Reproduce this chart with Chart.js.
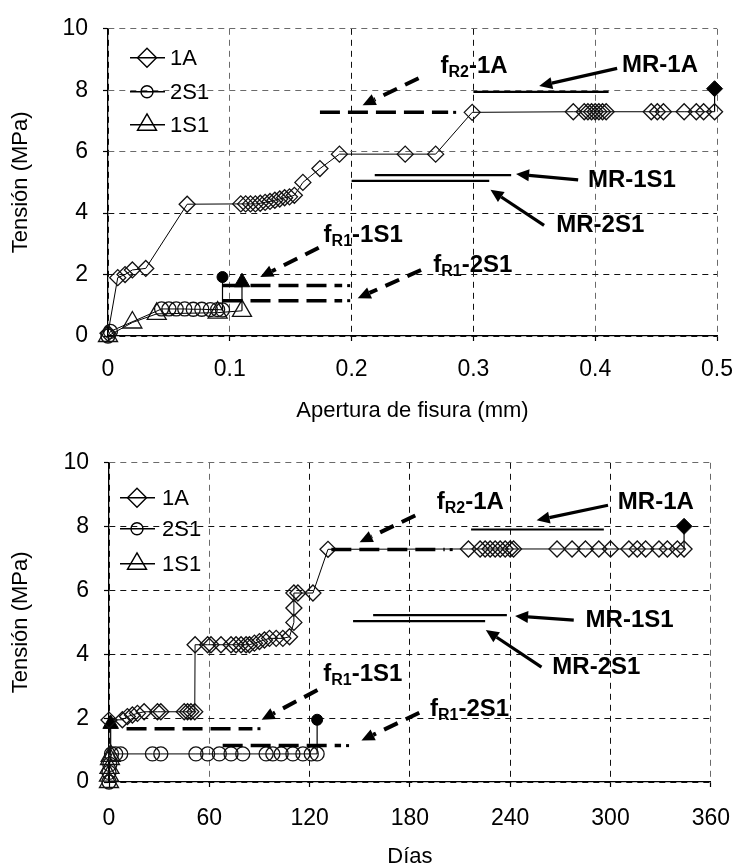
<!DOCTYPE html>
<html lang="es">
<head>
<meta charset="utf-8">
<title>Tensión frente a apertura de fisura y días</title>
<script src="https://cdn.jsdelivr.net/npm/chart.js@4.4.1/dist/chart.umd.min.js"></script>
<style>
  html, body { margin: 0; padding: 0; background: #fff; }
  .panel { position: absolute; left: 0; width: 748px; height: 434px; }
  #panel-apertura { top: 0; }
  #panel-dias { top: 434px; }
</style>
</head>
<body>
<div class="panel" id="panel-apertura"><canvas id="chart-apertura" width="748" height="434"></canvas></div>
<div class="panel" id="panel-dias"><canvas id="chart-dias" width="748" height="434"></canvas></div>
<script>
const FONT = '"Liberation Sans", Arial, sans-serif';

// --- Panel superior: tensión (MPa) frente a apertura de fisura (mm) ---
const aperturaA = [0, 0.008, 0.014, 0.020, 0.031, 0.065, 0.109, 0.113, 0.117, 0.121, 0.125, 0.129, 0.133, 0.137, 0.141, 0.145, 0.149, 0.153,
  0.160, 0.174, 0.190, 0.244, 0.269, 0.299, 0.382, 0.391, 0.394, 0.397, 0.400, 0.403, 0.406, 0.409, 0.446, 0.451, 0.456, 0.473, 0.483, 0.489, 0.498];
const tensionAperturaA = [0.09, 1.9, 2.0, 2.15, 2.2, 4.29, 4.3, 4.3, 4.3, 4.3, 4.32, 4.35, 4.38, 4.42, 4.46, 4.5, 4.53, 4.58,
  5.0, 5.45, 5.92, 5.92, 5.92, 7.28, 7.3, 7.3, 7.3, 7.3, 7.3, 7.3, 7.3, 7.3, 7.3, 7.3, 7.3, 7.3, 7.3, 7.3, 7.3];
const apertura2S1 = [0, 0.002, 0.044, 0.050, 0.056, 0.063, 0.070, 0.077, 0.084, 0.090, 0.094];
const tensionApertura2S1 = [0, 0.15, 0.88, 0.88, 0.88, 0.88, 0.87, 0.87, 0.86, 0.86, 0.85];
const apertura1S1 = [0, 0.020, 0.040, 0.090, 0.110];
const tensionApertura1S1 = [0, 0.44, 0.72, 0.76, 0.82];
// rotura (MR): último punto del ensayo y valor de rotura
const roturaAperturaA = [0.498, 0.498];
const roturaTensionAperturaA = [7.3, 8.05];
const roturaApertura2S1 = [0.094, 0.094];
const roturaTensionApertura2S1 = [0.85, 1.92];
const roturaApertura1S1 = [0.110, 0.110];
const roturaTensionApertura1S1 = [0.82, 1.75];

// --- Panel inferior: tensión (MPa) frente a días ---
const diasA = [0, 8, 11, 14, 17, 21, 29, 31, 45, 47, 49, 51.3, 51.5, 59, 61, 67, 73, 76, 79, 82, 84, 87, 90, 93, 96, 100, 104, 108, 110.6, 110.6, 110.6, 113, 122, 131,
  215, 222, 225, 228, 231, 234, 237, 240, 242, 268, 277, 285, 293, 300, 311, 316, 321, 329, 334, 340, 344];
const tensionDiasA = [1.94, 1.95, 2.05, 2.1, 2.15, 2.2, 2.2, 2.2, 2.2, 2.2, 2.2, 2.2, 4.3, 4.3, 4.3, 4.3, 4.3, 4.3, 4.3, 4.3, 4.3, 4.35, 4.4, 4.45, 4.5, 4.5, 4.5, 4.55, 5.0, 5.45, 5.92, 5.92, 5.92, 7.29,
  7.3, 7.3, 7.3, 7.3, 7.3, 7.3, 7.3, 7.3, 7.3, 7.3, 7.3, 7.3, 7.3, 7.3, 7.3, 7.3, 7.3, 7.3, 7.3, 7.3, 7.3];
const dias2S1 = [0, 0, 0.5, 1.5, 4, 7, 26, 31, 52, 59, 66, 73, 80, 94, 98, 103, 110, 116, 121, 124.5];
const tensionDias2S1 = [0, 0.3, 0.55, 0.88, 0.88, 0.88, 0.88, 0.88, 0.88, 0.88, 0.88, 0.88, 0.88, 0.88, 0.88, 0.88, 0.88, 0.88, 0.88, 0.88];
const dias1S1 = [0, 0, 0.3, 0.6, 1.0];
const tensionDias1S1 = [0, 0.2, 0.44, 0.72, 0.82];
const roturaDiasA = [344, 344];
const roturaTensionDiasA = [7.3, 8.01];
const roturaDias2S1 = [124.5, 124.5];
const roturaTensionDias2S1 = [0.88, 1.95];
const roturaDias1S1 = [1.0, 1.0];
const roturaTensionDias1S1 = [0.82, 1.82];

// ejes
const ticksApertura = [0, 0.1, 0.2, 0.3, 0.4, 0.5];
const ticksDias = [0, 60, 120, 180, 240, 300, 360];
const ticksTension = [0, 2, 4, 6, 8, 10];

// niveles fR (discontinuo) y MR (continuo), flechas y rótulos
const notasApertura = {
  niveles: [
    { x: [0.174, 0.285], y: 7.28, fR: true },
    { x: [0.094, 0.198], y: 1.64, fR: true },
    { x: [0.094, 0.198], y: 1.15, fR: true },
    { x: [0.300, 0.411], y: 7.95 },
    { x: [0.219, 0.331], y: 5.24 },
    { x: [0.200, 0.313], y: 5.05 }
  ],
  flechas: [
    { de: [0.255, 8.39], a: [0.209, 7.51], fR: true },
    { de: [0.418, 8.71], a: [0.354, 8.14] },
    { de: [0.386, 5.08], a: [0.335, 5.27] },
    { de: [0.358, 3.60], a: [0.314, 4.76] },
    { de: [0.173, 2.87], a: [0.125, 1.92], fR: true },
    { de: [0.257, 2.15], a: [0.205, 1.23], fR: true }
  ],
  textos: [
    { en: [0.273, 8.77], partes: ['f', 'R2', '-1A'] },
    { en: [0.422, 8.80], partes: ['MR-1A'] },
    { en: [0.394, 5.08], partes: ['MR-1S1'] },
    { en: [0.368, 3.60], partes: ['MR-2S1'] },
    { en: [0.177, 3.28], partes: ['f', 'R1', '-1S1'] },
    { en: [0.267, 2.30], partes: ['f', 'R1', '-2S1'] }
  ]
};

const notasDias = {
  niveles: [
    { x: [133, 205], y: 7.28, fR: true },
    { x: [10.5, 90], y: 1.67, fR: true },
    { x: [68, 143], y: 1.14, fR: true },
    { x: [216.6, 296], y: 7.91 },
    { x: [158, 238], y: 5.23 },
    { x: [146, 225], y: 5.04 }
  ],
  flechas: [
    { de: [183.2, 8.35], a: [149.9, 7.51], fR: true },
    { de: [298.5, 8.67], a: [255.8, 8.20] },
    { de: [278.0, 5.07], a: [242.9, 5.20] },
    { de: [258.7, 3.60], a: [225.4, 4.76] },
    { de: [124.7, 2.88], a: [91.3, 1.95], fR: true },
    { de: [185.6, 2.17], a: [151.0, 1.30], fR: true }
  ],
  textos: [
    { en: [196.1, 8.76], partes: ['f', 'R2', '-1A'] },
    { en: [304.4, 8.76], partes: ['MR-1A'] },
    { en: [285.1, 5.07], partes: ['MR-1S1'] },
    { en: [265.2, 3.60], partes: ['MR-2S1'] },
    { en: [128.2, 3.36], partes: ['f', 'R1', '-1S1'] },
    { en: [192.0, 2.26], partes: ['f', 'R1', '-2S1'] }
  ]
};

const series = [
  { label: '1A', estilo: 'rectRot', r: 8, leyendaR: 9.5 },
  { label: '2S1', estilo: 'circle', r: 7, leyendaR: 6 },
  { label: '1S1', estilo: 'triangle', r: 11, leyendaR: 11 }
];

function puntos(xs, ys) {
  return xs.map((x, i) => ({ x: x, y: ys[i] }));
}

function serie(s, xs, ys) {
  return {
    label: s.label,
    data: puntos(xs, ys),
    showLine: true,
    borderColor: '#000',
    borderWidth: 1,
    backgroundColor: 'rgba(0,0,0,0)',
    pointStyle: s.estilo,
    pointRadius: s.r,
    pointBorderColor: '#111',
    pointBackgroundColor: 'rgba(0,0,0,0)',
    pointBorderWidth: 1.3,
    clip: false
  };
}

// tramo vertical hasta la rotura, con marcador relleno arriba
function rotura(s, xs, ys) {
  return {
    label: s.label + ' MR',
    data: puntos(xs, ys),
    showLine: true,
    borderColor: '#000',
    borderWidth: 1.2,
    pointStyle: s.estilo,
    pointRadius: [0, s.estilo === 'circle' ? 5.5 : s.estilo === 'triangle' ? 9 : 8],
    pointBorderColor: '#000',
    pointBackgroundColor: '#000',
    pointBorderWidth: 1,
    clip: false
  };
}

function marcador(ctx, estilo, x, y, r, relleno) {
  ctx.beginPath();
  if (estilo === 'rectRot') {
    ctx.moveTo(x - r, y); ctx.lineTo(x, y - r); ctx.lineTo(x + r, y); ctx.lineTo(x, y + r);
    ctx.closePath();
  } else if (estilo === 'circle') {
    ctx.arc(x, y, r, 0, Math.PI * 2);
  } else {
    const h = r * Math.sin(Math.PI / 3);
    ctx.moveTo(x, y - r); ctx.lineTo(x + h, y + r / 2); ctx.lineTo(x - h, y + r / 2);
    ctx.closePath();
  }
  if (relleno) { ctx.fillStyle = '#000'; ctx.fill(); }
  ctx.stroke();
}

function flecha(ctx, x1, y1, x2, y2, discontinua) {
  const ang = Math.atan2(y2 - y1, x2 - x1);
  const largo = 13, ancho = 6;
  const bx = x2 - Math.cos(ang) * largo, by = y2 - Math.sin(ang) * largo;
  ctx.save();
  ctx.strokeStyle = '#000';
  ctx.lineWidth = discontinua ? 4 : 3.2;
  ctx.setLineDash(discontinua ? [15, 9] : []);
  ctx.beginPath(); ctx.moveTo(x1, y1); ctx.lineTo(bx, by); ctx.stroke();
  ctx.setLineDash([]);
  ctx.fillStyle = '#000';
  ctx.beginPath();
  ctx.moveTo(x2, y2);
  ctx.lineTo(bx + Math.sin(ang) * ancho, by - Math.cos(ang) * ancho);
  ctx.lineTo(bx - Math.sin(ang) * ancho, by + Math.cos(ang) * ancho);
  ctx.closePath(); ctx.fill();
  ctx.restore();
}

function anotaciones(notas, leyenda) {
  return {
    id: 'anotaciones',
    afterDatasetsDraw(chart) {
      const { ctx, scales: { x, y } } = chart;
      ctx.save();
      notas.niveles.forEach(n => {
        const x1 = x.getPixelForValue(n.x[0]), x2 = x.getPixelForValue(n.x[1]);
        const py = y.getPixelForValue(n.y);
        ctx.strokeStyle = '#000';
        if (n.fR) {
          ctx.lineWidth = 3.5;
          ctx.setLineDash([20, 8]);
          ctx.beginPath(); ctx.moveTo(x1, py); ctx.lineTo(x2 - 7, py); ctx.stroke();
          ctx.setLineDash([]);
          ctx.fillStyle = '#000';
          ctx.fillRect(x2 - 2, py - 1.5, 3, 3);
        } else {
          ctx.lineWidth = 2.2;
          ctx.setLineDash([]);
          ctx.beginPath(); ctx.moveTo(x1, py); ctx.lineTo(x2, py); ctx.stroke();
        }
      });
      notas.flechas.forEach(f => {
        flecha(ctx, x.getPixelForValue(f.de[0]), y.getPixelForValue(f.de[1]),
          x.getPixelForValue(f.a[0]), y.getPixelForValue(f.a[1]), f.fR);
      });
      ctx.fillStyle = '#000';
      ctx.textBaseline = 'middle';
      ctx.textAlign = 'left';
      notas.textos.forEach(t => {
        let px = x.getPixelForValue(t.en[0]);
        const py = y.getPixelForValue(t.en[1]);
        t.partes.forEach((p, i) => {
          const sub = t.partes.length === 3 && i === 1;
          ctx.font = 'bold ' + (sub ? 16 : 24) + 'px ' + FONT;
          ctx.fillText(p, px, sub ? py + 6 : py);
          px += ctx.measureText(p).width;
        });
      });
      ctx.restore();
    },
    afterDraw(chart) {
      const { ctx, chartArea } = chart;
      ctx.save();
      ctx.strokeStyle = '#000';
      series.forEach((s, i) => {
        const ry = chartArea.top + leyenda.filas[i];
        const x0 = chartArea.left + leyenda.linea[0], x1 = chartArea.left + leyenda.linea[1];
        ctx.lineWidth = 1.6;
        ctx.beginPath(); ctx.moveTo(x0, ry); ctx.lineTo(x1, ry); ctx.stroke();
        ctx.lineWidth = 1.4;
        marcador(ctx, s.estilo, chartArea.left + leyenda.marca, ry, s.leyendaR, false);
        ctx.fillStyle = '#000';
        ctx.font = '22px ' + FONT;
        ctx.textBaseline = 'middle';
        ctx.textAlign = 'left';
        ctx.fillText(s.label, chartArea.left + leyenda.texto, ry + 1);
      });
      ctx.restore();
    }
  };
}

function crearGrafico(id, cfg) {
  const punteada = cfg.punteada;
  return new Chart(document.getElementById(id), {
    type: 'scatter',
    data: { datasets: cfg.datasets },
    options: {
      responsive: false,
      animation: false,
      events: [],
      layout: { padding: cfg.padding },
      plugins: { legend: { display: false }, tooltip: { enabled: false } },
      scales: {
        x: {
          type: 'linear',
          min: cfg.ticksX[0],
          max: cfg.ticksX[cfg.ticksX.length - 1],
          afterBuildTicks: s => { s.ticks = cfg.ticksX.map(v => ({ value: v })); },
          afterFit: s => { s.height = cfg.altoX; },
          grid: {
            color: c => punteada.x(c.tick && c.tick.value) ? '#6a6a6a' : '#111',
            lineWidth: 1,
            tickLength: 5,
            tickColor: '#000',
            tickWidth: 1.2
          },
          border: { display: true, color: '#000', width: 1.3, dash: [6, 5] },
          ticks: {
            color: '#000',
            padding: cfg.padTicksX,
            maxRotation: 0,
            font: { family: FONT, size: 23 },
            callback: v => String(v)
          },
          title: {
            display: true,
            text: cfg.tituloX,
            color: '#000',
            font: { family: FONT, size: 22, lineHeight: 1 },
            padding: { top: 0, bottom: cfg.padTituloX }
          }
        },
        y: {
          type: 'linear',
          min: 0,
          max: 10,
          afterBuildTicks: s => { s.ticks = ticksTension.map(v => ({ value: v })); },
          afterFit: s => { s.width = cfg.anchoY; },
          grid: {
            color: c => punteada.y(c.tick && c.tick.value) ? '#6a6a6a' : '#111',
            lineWidth: 1,
            tickLength: 5,
            tickColor: '#000',
            tickWidth: 1.2
          },
          border: { display: true, color: '#000', width: 1.3, dash: [6, 5] },
          ticks: {
            color: '#000',
            padding: 15,
            font: { family: FONT, size: 23 },
            callback: v => String(v)
          },
          title: {
            display: true,
            text: 'Tensión (MPa)',
            color: '#000',
            font: { family: FONT, size: 22, lineHeight: 1 },
            padding: { top: 10, bottom: 0 }
          }
        }
      }
    },
    plugins: [anotaciones(cfg.notas, cfg.leyenda)]
  });
}

crearGrafico('chart-apertura', {
  datasets: [
    serie(series[0], aperturaA, tensionAperturaA),
    serie(series[1], apertura2S1, tensionApertura2S1),
    serie(series[2], apertura1S1, tensionApertura1S1),
    rotura(series[0], roturaAperturaA, roturaTensionAperturaA),
    rotura(series[1], roturaApertura2S1, roturaTensionApertura2S1),
    rotura(series[2], roturaApertura1S1, roturaTensionApertura1S1)
  ],
  ticksX: ticksApertura,
  tituloX: 'Apertura de fisura (mm)',
  padding: { top: 19, right: 21, left: 0, bottom: 0 },
  altoX: 98,
  anchoY: 108,
  padTicksX: 15,
  padTituloX: 12,
  punteada: {
    x: v => [1, 4, 5].includes(Math.round(v * 10)),
    y: v => [6, 8, 10].includes(Math.round(v))
  },
  notas: notasApertura,
  leyenda: { filas: [29, 63, 96], linea: [22, 57], marca: 39, texto: 62 }
});

crearGrafico('chart-dias', {
  datasets: [
    serie(series[0], diasA, tensionDiasA),
    serie(series[1], dias2S1, tensionDias2S1),
    serie(series[2], dias1S1, tensionDias1S1),
    rotura(series[0], roturaDiasA, roturaTensionDiasA),
    rotura(series[1], roturaDias2S1, roturaTensionDias2S1),
    rotura(series[2], roturaDias1S1, roturaTensionDias1S1)
  ],
  ticksX: ticksDias,
  tituloX: 'Días',
  padding: { top: 28, right: 24, left: 0, bottom: 0 },
  altoX: 86,
  anchoY: 109,
  padTicksX: 18,
  padTituloX: 0,
  punteada: {
    x: v => [60, 360].includes(Math.round(v)),
    y: v => [10].includes(Math.round(v))
  },
  notas: notasDias,
  leyenda: { filas: [35, 66, 101], linea: [11, 46], marca: 28, texto: 53 }
});
</script>
</body>
</html>
